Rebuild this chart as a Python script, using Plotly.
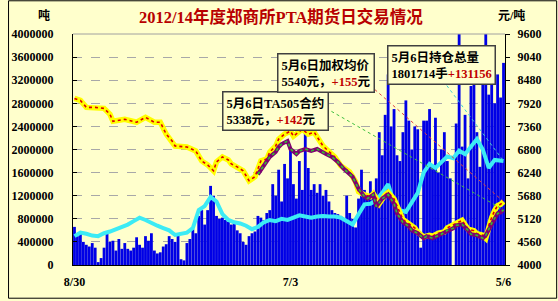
import plotly.graph_objects as go

# ---------------- data ----------------
x_tick_days = [0, 73, 145]
x_tick_labels = ["8/30", "7/3", "5/6"]

left_ticks = [0, 400000, 800000, 1200000, 1600000, 2000000, 2400000,
              2800000, 3200000, 3600000, 4000000]
right_ticks = [4000, 4560, 5120, 5680, 6240, 6800, 7360, 7920, 8480, 9040, 9600]

# daily volume (unit: 10,000 lots)
volume_wan = [
    66, 50, 58, 40, 35, 32, 38, 30, 5, 12,
    30, 55, 40, 42, 25, 45, 28, 38, 28, 25,
    30, 48, 35, 30, 50, 42, 55, 25, 20, 22,
    32, 36, 50, 45, 40, 52, 10, 8, 38, 45,
    62, 55, 85, 95, 70, 95, 137, 120, 85, 80,
    82, 78, 75, 70, 75, 60, 55, 40, 35, 50,
    55, 58, 85, 82, 78, 90, 95, 140, 120, 165,
    110, 175, 150, 200, 140, 115, 180, 130, 232, 168,
    130, 140, 125, 140, 120, 130, 110, 95, 90, 88,
    85, 80, 120, 90, 80, 65, 115, 165, 130, 120,
    145, 125, 150, 230, 190, 260, 330, 240, 270, 190,
    180, 230, 285, 250, 200, 240, 235, 30, 250, 250,
    270, 170, 255, 160, 200, 230, 180, 150, 0, 245,
    400, 205, 260, 150, 310, 340, 230, 170, 335, 400,
    295, 320, 280, 330, 290, 350,
]
days = list(range(len(volume_wan)))

# open interest (unit: 10,000 lots)
oi_days = list(range(0, 146, 2)) + [145]
oi_wan = [
    50, 56, 54, 51, 50, 55, 58, 62, 66, 70,
    76, 82, 78, 72, 68, 64, 60, 52, 54, 56,
    64, 95, 102, 118, 110, 88, 78, 74, 72, 68,
    62, 66, 74, 78, 76, 80, 78, 82, 86, 84,
    82, 84, 85, 84, 84, 82, 76, 70, 88, 105,
    106, 112, 125, 140, 108, 95, 92, 110, 125, 160,
    175, 168, 178, 188, 185, 198, 192, 205, 218, 200,
    168, 182, 180, 180.1714,
]

# weighted average price (yuan/ton)
avg_days = [0, 2, 4, 7, 10, 12, 13, 15, 17, 21, 24, 27, 29, 31, 33, 34, 38, 41, 43, 45,
            47, 48, 50, 52, 53, 55, 57, 58, 59, 61, 62, 63, 65, 66, 68, 69, 71, 73, 74, 76,
            77, 79, 81, 84, 86, 88, 90, 93, 95, 96, 98, 100, 101, 103, 105, 106, 108, 110,
            111, 113, 115, 116, 118, 120, 121, 123, 125, 126, 128, 130, 131, 133, 135, 136,
            138, 139, 140, 141, 142, 143, 144, 145]
avg_price = [8037, 7989, 7821, 7821, 7797, 7653, 7484, 7508, 7532, 7460, 7580, 7460, 7460,
             7172, 7004, 6884, 6860, 6764, 6523, 6427, 6283, 6500, 6619, 6547, 6451, 6379,
             6283, 6163, 6043, 6139, 6331, 6523, 6571, 6740, 6884, 7052, 7172, 7244, 7124,
             7244, 7292, 7172, 7220, 6884, 6740, 6619, 6403, 6259, 6019, 5780, 5700, 5658,
             5730, 5490, 5700, 5760, 5600, 5250, 5100, 5000, 4900, 4800, 4680, 4720, 4700,
             4770, 4800, 4900, 4980, 5040, 5081, 4870, 4830, 4760, 4720, 4650, 4960, 5150,
             5320, 5440, 5470, 5540]

# TA505 contract price (yuan/ton)
ta_days = [62, 65, 66, 68, 69, 70, 72, 73, 75, 76, 78, 80, 82, 85, 87, 89, 91, 94, 96, 98,
           99, 101, 102, 104, 106, 108, 109, 111, 113, 114, 116, 118, 119, 121, 123, 124,
           126, 128, 129, 131, 133, 134, 136, 138, 139, 141, 143, 144, 145]
ta_price = [6200, 6499, 6619, 6740, 6860, 6932, 7004, 6812, 6691, 6764, 6812, 6764, 6812,
            6691, 6619, 6499, 6331, 6139, 5850, 5658, 5610, 5706, 5418, 5610, 5706, 5490,
            5250, 5033, 4937, 4841, 4769, 4649, 4697, 4649, 4721, 4745, 4841, 4889, 4961,
            4985, 4841, 4745, 4721, 4649, 4721, 5009, 5250, 5274, 5338]

volume = [v * 10000 for v in volume_wan]
oi = [v * 10000 for v in oi_wan]

# ---------------- layout helpers ----------------
W, H = 558, 301
L, R, T, B = 66, 505, 34, 267


def px(xp):
    return (xp - L) / (R - L)


def py(yp):
    return (B - yp) / (B - T)


BG = "#FFFFCC"
SERIF = "Liberation Serif, Times New Roman, Noto Sans CJK SC, serif"
CJK = "Liberation Serif, Noto Sans CJK SC, serif"

fig = go.Figure()

fig.add_trace(go.Bar(x=days, y=volume, marker=dict(color="#0000E6", line=dict(width=0)),
                     yaxis="y", showlegend=False, hoverinfo="skip"))
fig.add_trace(go.Scatter(x=oi_days, y=oi, mode="lines", line=dict(color="#3CEBF5", width=4),
                         yaxis="y", showlegend=False, hoverinfo="skip"))
fig.add_trace(go.Scatter(x=avg_days, y=avg_price, mode="lines",
                         line=dict(color="#FFFF00", width=5.5), yaxis="y2", showlegend=False))
fig.add_trace(go.Scatter(x=avg_days, y=avg_price, mode="lines",
                         line=dict(color="#E00000", width=1.6, dash="dot"), yaxis="y2",
                         showlegend=False))
fig.add_trace(go.Scatter(x=ta_days, y=ta_price, mode="lines",
                         line=dict(color="#800070", width=4), yaxis="y2", showlegend=False))
fig.add_trace(go.Scatter(x=ta_days, y=ta_price, mode="lines",
                         line=dict(color="#30C030", width=1.6, dash="dot"), yaxis="y2",
                         showlegend=False))

# leader lines from labels to the last values
last = days[-1]
fig.add_shape(type="line", xref="x", yref="y2", x0=(372 - 67.5) / 3, y0=4000 + (B - 90) * 5600 / 233,
              x1=last, y1=avg_price[-1], line=dict(color="#E04040", width=1, dash="dot"))
fig.add_shape(type="line", xref="x", yref="y2", x0=(328 - 67.5) / 3, y0=4000 + (B - 112) * 5600 / 233,
              x1=last, y1=ta_price[-1], line=dict(color="#40C040", width=1, dash="dot"))
fig.add_shape(type="line", xref="x", yref="y", x0=(445 - 67.5) / 3, y0=(B - 86) / 233 * 4000000,
              x1=last, y1=oi[-1], line=dict(color="#40D0D0", width=1, dash="dot"))

# top frame line of plot area
fig.add_shape(type="line", xref="paper", yref="paper", x0=0, x1=1, y0=1, y1=1,
              line=dict(color="#A0A0A0", width=1))
# outer border
fig.add_shape(type="rect", xref="paper", yref="paper",
              x0=px(0.5), x1=px(557.5), y0=py(300.5), y1=py(0.5),
              line=dict(color="black", width=1), layer="above")

ann_font = dict(family=CJK, size=12.5, color="black", weight="bold")
annotations = [
    dict(text="2012/14年度郑商所PTA期货日交易情况", x=px(277), y=py(17),
         font=dict(family=CJK, size=16.5, color="#B80000", weight="bold")),
    dict(text="吨", x=px(37), y=py(15), font=dict(family=CJK, size=12, color="black", weight="bold")),
    dict(text="元/吨", x=px(512), y=py(15), font=dict(family=CJK, size=12, color="black", weight="bold")),
    dict(text="5月6日TA505合约<br>5338元，<span style='color:#C00000'>+142</span>元",
         x=px(272), y=py(112), align="left", font=ann_font),
    dict(text="5月6日加权均价<br>5540元，<span style='color:#C00000'>+155</span>元",
         x=px(323), y=py(73), align="left", font=ann_font),
    dict(text="5月6日持仓总量<br>1801714手<span style='color:#C00000'>+131156</span>",
         x=px(440), y=py(65), align="left", font=ann_font),
]
for i, a in enumerate(annotations):
    a.update(xref="paper", yref="paper", showarrow=False, xanchor="center", yanchor="middle")
    if i >= 3:
        a.update(bgcolor=BG, bordercolor="#404040", borderwidth=1.5, borderpad=3)

tick_font = dict(family=SERIF, size=12, color="black", weight="bold")

fig.update_layout(
    width=W, height=H,
    margin=dict(l=L, r=W - R, t=T, b=H - B),
    paper_bgcolor=BG, plot_bgcolor=BG,
    bargap=0.05,
    showlegend=False,
    annotations=annotations,
    xaxis=dict(range=[-0.5, len(days) - 0.5], tickmode="array", tickvals=x_tick_days,
               ticktext=x_tick_labels, showgrid=False, zeroline=False, showline=True,
               linecolor="black", linewidth=1, ticks="", tickfont=tick_font,
               ticklabelstandoff=6),
    yaxis=dict(range=[0, 4000000], tickmode="array", tickvals=left_ticks,
               ticktext=[str(v) for v in left_ticks], showgrid=True, gridcolor="#A8A8A8",
               griddash="dash", gridwidth=1, zeroline=False, showline=True, linecolor="black",
               linewidth=1, ticks="inside", ticklen=4, tickcolor="black", tickfont=tick_font,
               ticklabelstandoff=16),
    yaxis2=dict(range=[4000, 9600], overlaying="y", side="right", tickmode="array",
                tickvals=right_ticks, ticktext=[str(v) for v in right_ticks], showgrid=False,
                zeroline=False, showline=True, linecolor="black", linewidth=1,
                ticks="outside", ticklen=4, tickcolor="black", tickfont=tick_font,
                ticklabelstandoff=5),
)

fig.write_html("out.html")
